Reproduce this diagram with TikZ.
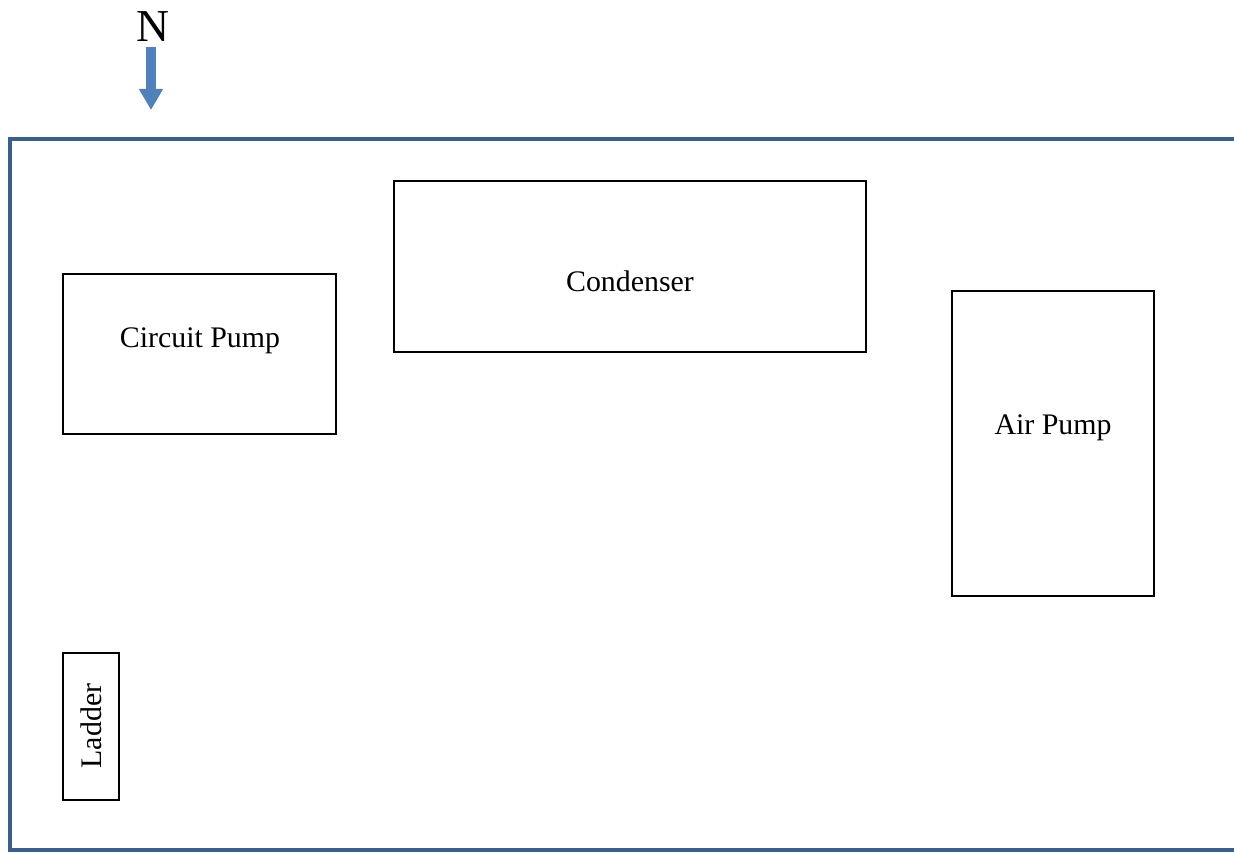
\documentclass[tikz,border=0pt]{standalone}
\usepackage{fontspec}
\setmainfont{Liberation Serif}
\usepackage{tikz}
\usetikzlibrary{arrows.meta, calc}
\definecolor{wallblue}{HTML}{3B5F8C}
\definecolor{northblue}{HTML}{4F81BD}

\begin{document}
\begin{tikzpicture}[x=0.02cm, y=-0.02cm,
    equip/.style={draw=black, line width=0.85pt},
    lbl/.style={font=\fontsize{17}{20}\selectfont, inner sep=0pt},
    wall/.style={draw=wallblue, line width=2.8pt},
    north/.style={draw=northblue, line width=5.2pt,
      -{Triangle[width=13pt, length=12pt]}}]
  % plan in pixel units: 1234 x 853, y grows downward
  \useasboundingbox (0,0) rectangle (1234,853);

  % room walls, open on the right
  \draw[wall] (1240,139) -- (10,139) -- (10,850) -- (1240,850);

  % north marker
  \node[font=\fontsize{26}{29}\selectfont, inner sep=0pt] (nlabel) at (153,27) {N};
  \coordinate (ntip) at (151,110);
  \draw[north] (151,47) -- (ntip);

  % equipment
  \draw[equip] (63,274) rectangle (336,434);
  \node[lbl] (cpump) at (200,341) {Circuit Pump};

  \draw[equip] (394,181) rectangle (866,352);
  \node[lbl] (condenser) at (630,281) {Condenser};

  \draw[equip] (952,291) rectangle (1154,596);
  \node[lbl] (apump) at (1053,428) {Air Pump};

  \draw[equip] (63,653) rectangle (119,800);
  \node[lbl, rotate=90] (ladder) at (91,726) {Ladder};
\end{tikzpicture}
\end{document}
